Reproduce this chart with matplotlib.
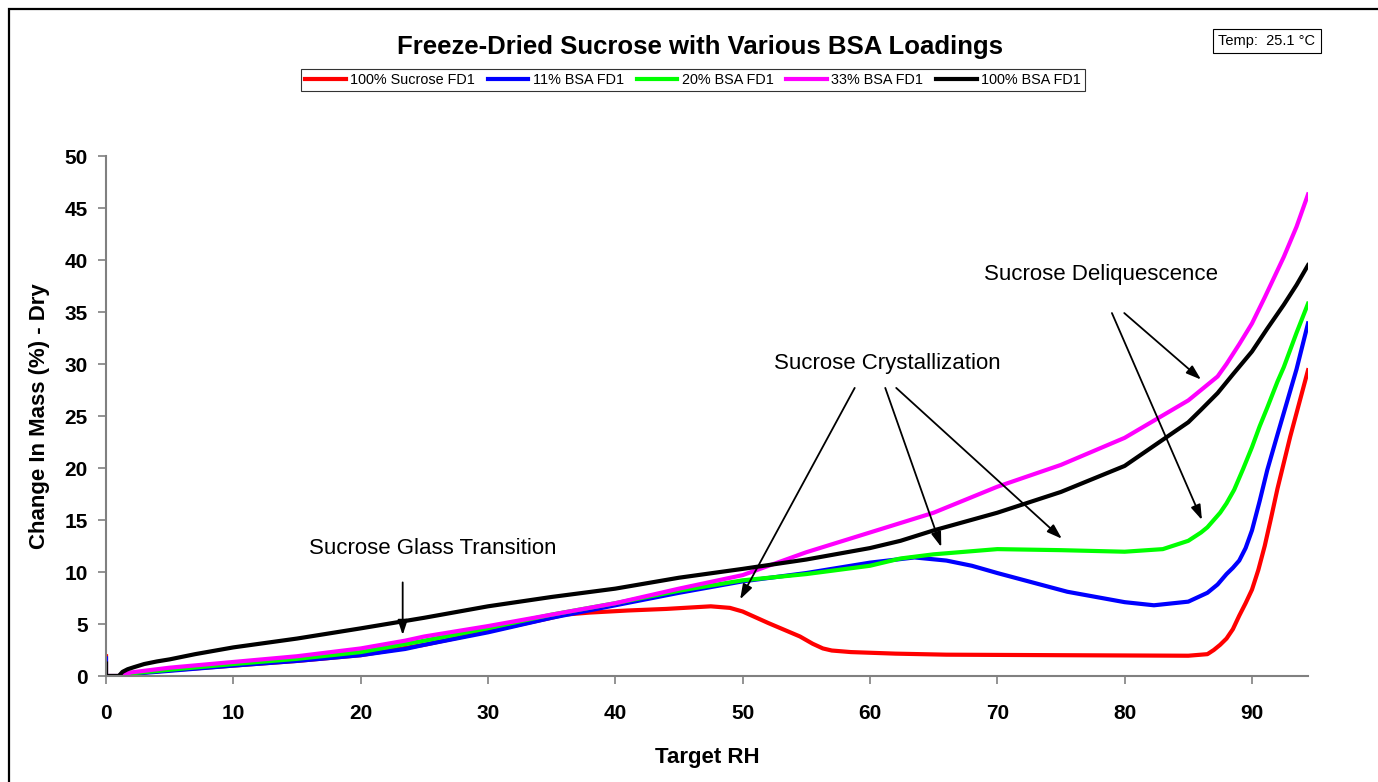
import matplotlib
matplotlib.use("Agg")
import matplotlib.pyplot as plt
from matplotlib.patches import Rectangle

plt.rcParams['font.family'] = ['Liberation Sans', 'DejaVu Sans']

# sorption curves: target RH (%) vs change in mass (%, dry basis)
rh_sucrose = [0, 0, 1, 2, 5, 10, 15, 20, 25, 30, 35, 36, 38, 41, 44, 47.5, 49, 50, 52,
              54.5, 55.5, 56.3, 57, 58.5, 62, 66, 75, 85, 86.5, 87, 87.5, 88, 88.5, 89, 89.5,
              90, 90.5, 91, 91.5, 92, 92.5, 93, 93.7, 94.4]
mass_sucrose = [1.9, 0, 0, 0.25, 0.55, 1.0, 1.45, 2.0, 3.0, 4.3, 5.6, 5.9, 6.1, 6.3, 6.45, 6.7,
                6.55, 6.2, 5.1, 3.8, 3.1, 2.65, 2.45, 2.3, 2.15, 2.05, 2.0, 1.95, 2.1, 2.5, 3.0,
                3.6, 4.5, 5.8, 7.0, 8.3, 10.2, 12.5, 15.2, 18.0, 20.5, 23.0, 26.2, 29.4]

rh_bsa11 = [0, 0, 1, 2, 5, 10, 15, 20, 23.5, 25, 30, 35, 40, 45, 50, 55, 60, 63.5, 66, 68, 70,
            75.5, 80, 82.3, 85, 86.5, 87.3, 88, 88.5, 89, 89.5, 90, 90.6, 91.2, 92, 92.5, 93.5,
            94.4]
mass_bsa11 = [1.7, 0, 0, 0.2, 0.5, 1.0, 1.45, 2.0, 2.6, 3.0, 4.2, 5.6, 6.8, 8.0, 9.1, 9.9, 10.9,
              11.4, 11.1, 10.6, 9.9, 8.1, 7.1, 6.8, 7.15, 8.0, 8.8, 9.8, 10.4, 11.1, 12.3, 14.0,
              16.8, 19.8, 23.2, 25.3, 29.5, 33.9]

rh_bsa20 = [1, 2, 5, 10, 15, 20, 25, 30, 35, 40, 45, 50, 55, 60, 62.4, 65, 70, 75, 80, 83, 85,
            86, 86.5, 87, 87.5, 88, 88.6, 89.3, 90, 90.6, 91.2, 92, 92.5, 93.5, 94.4]
mass_bsa20 = [0, 0.25, 0.6, 1.15, 1.65, 2.3, 3.4, 4.6, 5.9, 7.0, 8.2, 9.2, 9.8, 10.6, 11.3, 11.7,
              12.2, 12.1, 11.95, 12.2, 13.0, 13.8, 14.3, 15.0, 15.7, 16.6, 17.9, 19.9, 22.0,
              24.0, 25.8, 28.3, 29.7, 33.0, 35.8]

rh_bsa33 = [1, 2, 5, 10, 15, 20, 23.5, 25, 30, 35, 40, 45, 50, 55, 60, 65, 70, 75, 80, 85, 86,
            87.3, 88, 89, 90, 91, 92.5, 93.5, 94.4]
mass_bsa33 = [0, 0.35, 0.8, 1.35, 1.9, 2.65, 3.4, 3.8, 4.8, 5.9, 7.0, 8.4, 9.7, 11.9, 13.8, 15.7,
              18.2, 20.3, 22.9, 26.5, 27.5, 28.8, 30.0, 31.9, 33.9, 36.4, 40.3, 43.2, 46.3]

rh_bsa100 = [0, 0, 1, 1.3, 1.7, 2.2, 3, 4, 5, 7, 10, 15, 20, 25, 30, 35, 40, 45, 50, 55, 60,
             62.4, 65, 70, 75, 80, 85, 86, 87.3, 88.5, 90, 91.2, 92.5, 93.5, 94.4]
mass_bsa100 = [1.2, 0, 0, 0.4, 0.65, 0.85, 1.15, 1.4, 1.6, 2.1, 2.75, 3.6, 4.58, 5.6, 6.7, 7.6,
               8.4, 9.45, 10.3, 11.2, 12.3, 13.0, 14.0, 15.7, 17.7, 20.2, 24.4, 25.6, 27.2, 29.0,
               31.2, 33.4, 35.7, 37.6, 39.5]

series = [
    ("100% Sucrose FD1", rh_sucrose, mass_sucrose, "#ff0000"),
    ("11% BSA FD1", rh_bsa11, mass_bsa11, "#0000ff"),
    ("20% BSA FD1", rh_bsa20, mass_bsa20, "#00ff00"),
    ("33% BSA FD1", rh_bsa33, mass_bsa33, "#ff00ff"),
    ("100% BSA FD1", rh_bsa100, mass_bsa100, "#000000"),
]

W, H = 1378, 782
fig = plt.figure(figsize=(W / 100, H / 100), dpi=100)

# chart-area border
fig.patches.append(Rectangle((9 / W, -0.05), 1.2, 1.05 - 9 / H, transform=fig.transFigure,
                             fill=False, edgecolor='black', lw=1.6))

ax = fig.add_axes([106 / W, 1 - 676 / H, (1308 - 106) / W, (676 - 156) / H])
for label, x, y, c in series:
    ax.plot(x, y, color=c, lw=3, label=label, solid_joinstyle='round')

ax.set_xlim(0, 94.4)
ax.set_ylim(0, 50)
ax.set_xticks(range(0, 91, 10))
ax.set_yticks(range(0, 51, 5))
for s in ('top', 'right'):
    ax.spines[s].set_visible(False)
for s in ('left', 'bottom'):
    ax.spines[s].set_color('#808080')
    ax.spines[s].set_linewidth(1.5)
ax.tick_params(axis='both', direction='out', length=6, width=1.2, color='#808080',
               labelsize=15)
ax.tick_params(axis='x', pad=14)
ax.tick_params(axis='y', pad=7)
for t in ax.get_xticklabels() + ax.get_yticklabels():
    t.set_fontweight('bold')

fig.text(40 / W, 1 - 416 / H, "Change In Mass (%) - Dry", rotation=90, fontsize=16,
         fontweight='bold', ha='center', va='center')
fig.text(707 / W, 1 - 757 / H, "Target RH", fontsize=16, fontweight='bold',
         ha='center', va='center')
fig.text(700 / W, 1 - 47 / H, "Freeze-Dried Sucrose with Various BSA Loadings", fontsize=18.5,
         fontweight='bold', ha='center', va='center')
fig.text(1267 / W, 1 - 41 / H, "Temp:  25.1 °C", fontsize=10.5, ha='center', va='center',
         bbox=dict(boxstyle='square,pad=0.35', fc='white', ec='black', lw=0.8))

leg = fig.legend(loc='center', bbox_to_anchor=(693 / W, 1 - 80 / H), ncol=5, fontsize=10.4,
                 frameon=True, fancybox=False, edgecolor='black', handlelength=2.8,
                 handletextpad=0.3, columnspacing=0.9, borderpad=0.3, borderaxespad=0)
leg.get_frame().set_linewidth(0.8)

# annotations
arrow = dict(arrowstyle='-|>,head_length=0.9,head_width=0.3', color='black', lw=1.3,
             shrinkA=0, shrinkB=0)
ax.text(25.65, 12.3, "Sucrose Glass Transition", fontsize=16, ha='center', va='center')
ax.annotate("", xy=(23.3, 3.94), xytext=(23.3, 9.0), arrowprops=arrow)

ax.text(61.35, 30.0, "Sucrose Crystallization", fontsize=16, ha='center', va='center')
ax.annotate("", xy=(49.8, 7.37), xytext=(58.8, 27.7), arrowprops=arrow)
ax.annotate("", xy=(65.6, 12.4), xytext=(61.2, 27.7), arrowprops=arrow)
ax.annotate("", xy=(75.07, 13.2), xytext=(62.06, 27.7), arrowprops=arrow)

ax.text(78.15, 38.56, "Sucrose Deliquescence", fontsize=16, ha='center', va='center')
ax.annotate("", xy=(86.07, 15.0), xytext=(79.0, 34.9), arrowprops=arrow)
ax.annotate("", xy=(86.0, 28.5), xytext=(79.97, 34.9), arrowprops=arrow)

fig.savefig("out.png", dpi=100)
